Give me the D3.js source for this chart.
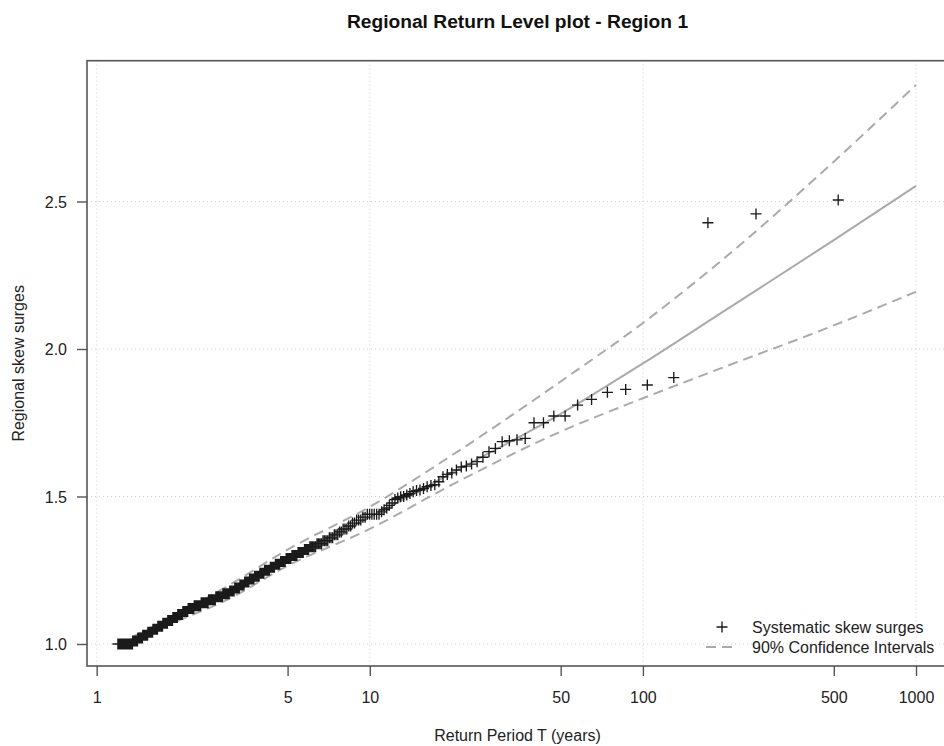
<!DOCTYPE html>
<html>
<head>
<meta charset="utf-8">
<script src="https://cdn.jsdelivr.net/npm/d3@7"></script>
<style>
  html, body { margin: 0; padding: 0; background: #fff; }
  svg { display: block; font-family: "Liberation Sans", Arial, Helvetica, sans-serif; }
</style>
</head>
<body>
<svg id="chart" width="944" height="746"></svg>
<script>
// Largest observed skew surges, in descending order (rank 1 = largest)
const topSurges = [2.505, 2.458, 2.428, 1.903, 1.878, 1.863, 1.853, 1.829, 1.810, 1.773,
  1.773, 1.750, 1.750, 1.697, 1.692, 1.689, 1.686, 1.663, 1.652, 1.633,
  1.618, 1.610, 1.603, 1.600, 1.590, 1.580, 1.575, 1.567, 1.550, 1.540,
  1.537, 1.533, 1.527, 1.522, 1.520, 1.516, 1.510, 1.505, 1.500, 1.499,
  1.495, 1.490, 1.478, 1.470, 1.461, 1.455, 1.448];

// Remaining surges as a frequency table (value, number of events), descending
const surgeLevels = [1.44, 1.43, 1.42, 1.41, 1.40, 1.39, 1.38, 1.37, 1.36, 1.35,
  1.34, 1.33, 1.32, 1.31, 1.30, 1.29, 1.28, 1.27, 1.26, 1.25,
  1.24, 1.23, 1.22, 1.21, 1.20, 1.19, 1.18, 1.17, 1.16, 1.15,
  1.14, 1.13, 1.12, 1.11, 1.10, 1.09, 1.08, 1.07, 1.06, 1.05,
  1.04, 1.03, 1.02, 1.01, 1.00];
const surgeCounts = [6, 2, 3, 2, 2, 3, 2, 3, 3, 4,
  4, 5, 4, 5, 5, 5, 5, 5, 5, 6,
  5, 6, 6, 6, 6, 7, 7, 10, 11, 12,
  13, 13, 12, 11, 11, 11, 12, 12, 13, 13,
  14, 15, 15, 16, 51];

// Empirical return period of the top-ranked surge; rank k plots at T1 / k
const topReturnPeriod = 519;

// Fitted regional return level curve and its 90% confidence band
const curvePeriods = [1.2, 1.5, 2, 3, 5, 10, 20, 50, 100, 200, 500, 1000];
const fittedLevels = [0.995, 1.038, 1.09, 1.17, 1.29, 1.43, 1.58, 1.78, 1.951, 2.131, 2.369, 2.553];
const upperLevels  = [1.000, 1.045, 1.105, 1.195, 1.32, 1.465, 1.64, 1.89, 2.088, 2.31, 2.635, 2.895];
const lowerLevels  = [0.995, 1.030, 1.08, 1.15, 1.265, 1.39, 1.54, 1.72, 1.833, 1.94, 2.08, 2.194];

const xTicks = [1, 5, 10, 50, 100, 500, 1000];
const xGrid = [1, 10, 100, 1000];
const yTicks = [1.0, 1.5, 2.0, 2.5];

// Expand ranked sample
const ranked = topSurges.slice();
surgeLevels.forEach((v, i) => { for (let j = 0; j < surgeCounts[i]; j++) ranked.push(v); });
const points = ranked.map((v, i) => ({ T: topReturnPeriod / (i + 1), v }));

const svg = d3.select("#chart");
const W = 944, H = 746;
const frame = { left: 87, right: 948, top: 60.7, bottom: 666 };

const x = d3.scaleLog().domain([1, 1000]).range([96.7, 916]);
const y = d3.scaleLinear().domain([1, 2.5]).range([644, 201.5]);

svg.append("rect").attr("width", W).attr("height", H).attr("fill", "#fff");

// Title
svg.append("text")
  .attr("x", (frame.left + frame.right) / 2).attr("y", 28)
  .attr("text-anchor", "middle")
  .attr("font-size", 19.2).attr("font-weight", "bold").attr("fill", "#111")
  .text("Regional Return Level plot - Region 1");

const clipId = "plotClip";
svg.append("clipPath").attr("id", clipId).append("rect")
  .attr("x", frame.left).attr("y", frame.top)
  .attr("width", frame.right - frame.left).attr("height", frame.bottom - frame.top);

const plot = svg.append("g").attr("clip-path", `url(#${clipId})`);

// Dotted grid
plot.selectAll("line.gx").data(xGrid).join("line")
  .attr("x1", d => x(d)).attr("x2", d => x(d))
  .attr("y1", frame.top).attr("y2", frame.bottom)
  .attr("stroke", "#cfcfcf").attr("stroke-width", 1).attr("stroke-dasharray", "1,3");
plot.selectAll("line.gy").data(yTicks).join("line")
  .attr("x1", frame.left).attr("x2", frame.right)
  .attr("y1", d => y(d)).attr("y2", d => y(d))
  .attr("stroke", "#cfcfcf").attr("stroke-width", 1).attr("stroke-dasharray", "1,3");

// Curves
const line = d3.line().x(d => x(d[0])).y(d => y(d[1])).curve(d3.curveMonotoneX);
const mk = arr => curvePeriods.map((t, i) => [t, arr[i]]);

plot.append("path").attr("d", line(mk(fittedLevels)))
  .attr("fill", "none").attr("stroke", "#aaaaaa").attr("stroke-width", 2);
[upperLevels, lowerLevels].forEach(arr => {
  plot.append("path").attr("d", line(mk(arr)))
    .attr("fill", "none").attr("stroke", "#aaaaaa").attr("stroke-width", 2)
    .attr("stroke-dasharray", "10,6");
});

// Observed surges as "+" markers
const s = 5.5;
const cross = (px, py) => `M${px - s},${py}H${px + s}M${px},${py - s}V${py + s}`;
plot.append("path")
  .attr("d", points.map(p => cross(x(p.T), y(p.v))).join(""))
  .attr("fill", "none").attr("stroke", "#1a1a1a").attr("stroke-width", 1.35);

// Frame
svg.append("rect")
  .attr("x", frame.left).attr("y", frame.top)
  .attr("width", frame.right - frame.left).attr("height", frame.bottom - frame.top)
  .attr("fill", "none").attr("stroke", "#555").attr("stroke-width", 1.6);

// Axes
const xAxis = svg.append("g").attr("transform", `translate(0,${frame.bottom})`)
  .call(d3.axisBottom(x).tickValues(xTicks).tickFormat(d3.format("d")).tickSize(10).tickSizeOuter(0));
const yAxis = svg.append("g").attr("transform", `translate(${frame.left},0)`)
  .call(d3.axisLeft(y).tickValues(yTicks).tickFormat(d3.format(".1f")).tickSize(10).tickSizeOuter(0));
[xAxis, yAxis].forEach(g => {
  g.select(".domain").remove();
  g.selectAll(".tick line").attr("stroke", "#555").attr("stroke-width", 1.4);
  g.selectAll(".tick text").attr("font-size", 16).attr("fill", "#222")
    .attr("font-family", "'Liberation Sans', Arial, Helvetica, sans-serif");
});
xAxis.selectAll(".tick text").attr("dy", null).attr("y", 37);
yAxis.selectAll(".tick text").attr("x", -20).attr("dy", "0.36em");

// Axis titles
svg.append("text")
  .attr("x", (frame.left + frame.right) / 2).attr("y", 741)
  .attr("text-anchor", "middle").attr("font-size", 16).attr("fill", "#222")
  .text("Return Period T (years)");
svg.append("text")
  .attr("transform", `translate(24,${(frame.top + frame.bottom) / 2}) rotate(-90)`)
  .attr("text-anchor", "middle").attr("font-size", 16).attr("fill", "#222")
  .text("Regional skew surges");

// Legend
const lg = svg.append("g");
lg.append("path").attr("d", cross(722, 627))
  .attr("stroke", "#1a1a1a").attr("stroke-width", 1.35).attr("fill", "none");
lg.append("line").attr("x1", 706).attr("x2", 734).attr("y1", 647).attr("y2", 647)
  .attr("stroke", "#aaaaaa").attr("stroke-width", 2).attr("stroke-dasharray", "10,6");
lg.append("text").attr("x", 752).attr("y", 627).attr("dy", "0.36em")
  .attr("font-size", 16).attr("fill", "#222").text("Systematic skew surges");
lg.append("text").attr("x", 752).attr("y", 647).attr("dy", "0.36em")
  .attr("font-size", 16).attr("fill", "#222").text("90% Confidence Intervals");
</script>
</body>
</html>
